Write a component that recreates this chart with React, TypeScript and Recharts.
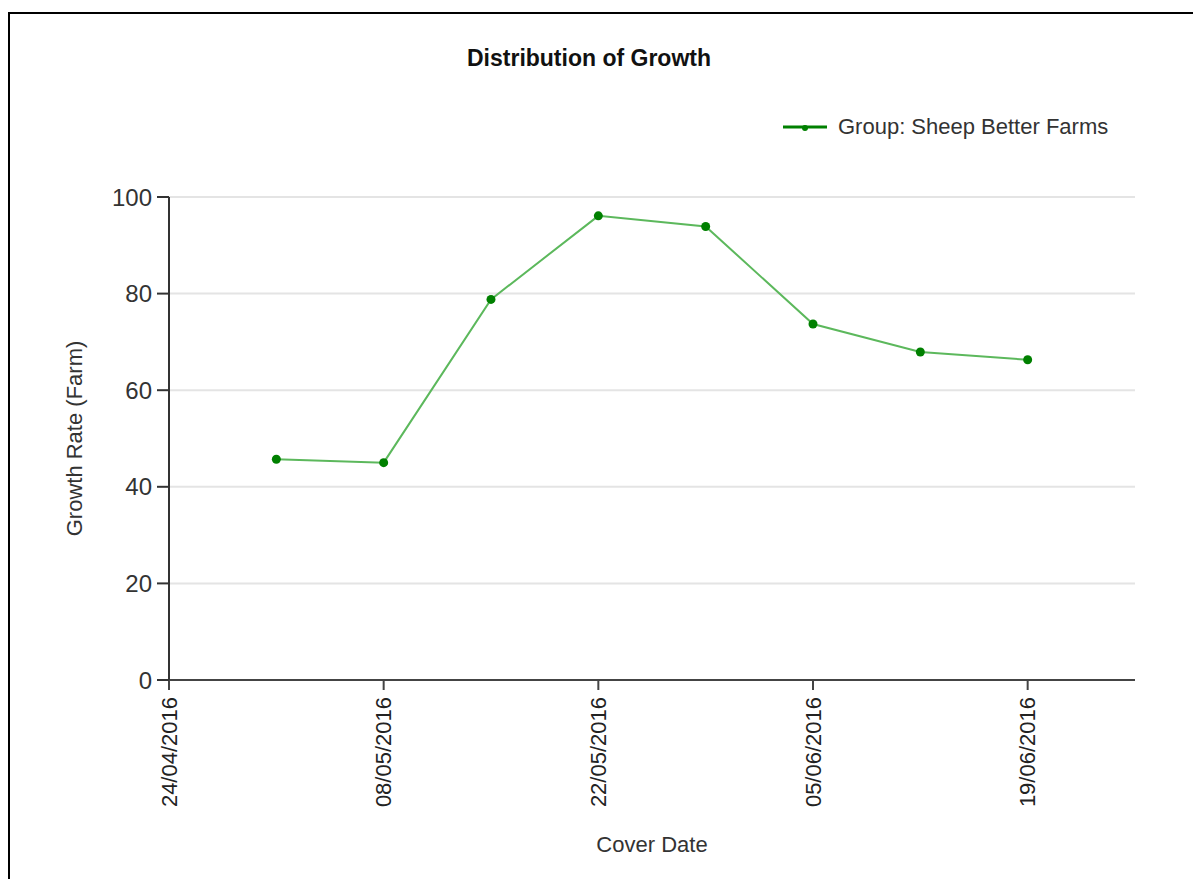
import React from 'react';
import { LineChart, Line, XAxis, YAxis, CartesianGrid } from 'recharts';

// Weekly cover dates and the farm growth rate
const coverDates = ['01/05/2016', '08/05/2016', '15/05/2016', '22/05/2016', '29/05/2016', '05/06/2016', '12/06/2016', '19/06/2016'];
const growthRate = [45.7, 45.0, 78.8, 96.1, 93.9, 73.7, 67.9, 66.3];

const xTickLabels = ['24/04/2016', '08/05/2016', '22/05/2016', '05/06/2016', '19/06/2016'];
const xDomainStart = '24/04/2016';
const xDomainEnd = '26/06/2016';
const yTicks = [0, 20, 40, 60, 80, 100];

const seriesName = 'Group: Sheep Better Farms';
const FONT = '"Liberation Sans", Arial, sans-serif';
const LINE_COLOR = '#5cb85c';
const DOT_COLOR = '#008000';

// dd/mm/yyyy -> UTC timestamp
const toTime = (s: string) => {
  const [d, m, y] = s.split('/').map(Number);
  return Date.UTC(y, m - 1, d);
};

const fmtDate = (t: number) => {
  const d = new Date(t);
  const dd = String(d.getUTCDate()).padStart(2, '0');
  const mm = String(d.getUTCMonth() + 1).padStart(2, '0');
  return `${dd}/${mm}/${d.getUTCFullYear()}`;
};

const chartData = coverDates.map((date, i) => ({
  t: toTime(date),
  growth: growthRate[i],
}));

// rotated date labels, reading bottom-to-top with the end near the axis
const DateTick = (props: any) => {
  const { x, y, payload } = props;
  return (
    <text
      x={x}
      y={y}
      transform={`rotate(-90, ${x}, ${y})`}
      textAnchor="end"
      dominantBaseline="central"
      fill="#222"
      fontSize={22}
      fontFamily={FONT}
    >
      {fmtDate(payload.value)}
    </text>
  );
};

export default function App() {
  return (
    <div style={{ position: 'absolute', left: 0, top: 0, width: 1193, height: 879, background: '#fff', fontFamily: FONT }}>
      {/* frame */}
      <div style={{ position: 'absolute', left: 8, top: 12, right: 0, bottom: 0, borderTop: '2px solid #000', borderLeft: '2px solid #000' }} />

      {/* title */}
      <div style={{ position: 'absolute', left: 0, top: 46, width: 1178, textAlign: 'center', fontSize: 23, lineHeight: '24px', fontWeight: 'bold', color: '#111' }}>
        Distribution of Growth
      </div>

      {/* legend */}
      <div style={{ position: 'absolute', left: 783, top: 114, display: 'flex', alignItems: 'center', height: 26 }}>
        <svg width={44} height={26}>
          <line x1={0} y1={13} x2={44} y2={13} stroke={DOT_COLOR} strokeWidth={3} />
          <circle cx={22} cy={14} r={3} fill={DOT_COLOR} />
        </svg>
        <span style={{ marginLeft: 11, fontSize: 22, color: '#333', lineHeight: '26px' }}>{seriesName}</span>
      </div>

      <div style={{ position: 'absolute', left: 0, top: 0 }}>
        <LineChart width={1193} height={879} data={chartData} margin={{ top: 197, right: 58, bottom: 69, left: 69 }}>
          <CartesianGrid vertical={false} stroke="#e4e4e4" strokeWidth={2} />
          <XAxis
            dataKey="t"
            type="number"
            domain={[toTime(xDomainStart), toTime(xDomainEnd)]}
            ticks={xTickLabels.map(toTime)}
            tick={<DateTick />}
            height={130}
            tickSize={10}
            tickMargin={7}
            stroke="#444"
            strokeWidth={2}
            interval={0}
            label={{ value: 'Cover Date', position: 'bottom', offset: 26, style: { fill: '#333', fontSize: 22, fontFamily: FONT } }}
          />
          <YAxis
            type="number"
            domain={[0, 100]}
            ticks={yTicks}
            width={100}
            tickSize={12}
            tickMargin={5}
            stroke="#333"
            strokeWidth={2}
            interval={0}
            tick={{ fill: '#333', fontSize: 24, fontFamily: FONT }}
            label={{ value: 'Growth Rate (Farm)', angle: -90, position: 'insideLeft', offset: 5, style: { textAnchor: 'middle', fill: '#333', fontSize: 22, fontFamily: FONT } }}
          />
          <Line
            type="linear"
            dataKey="growth"
            name={seriesName}
            stroke={LINE_COLOR}
            strokeWidth={2}
            dot={{ r: 4.5, fill: DOT_COLOR, stroke: DOT_COLOR, strokeWidth: 0 }}
            activeDot={false}
            isAnimationActive={false}
          />
        </LineChart>
      </div>
    </div>
  );
}
